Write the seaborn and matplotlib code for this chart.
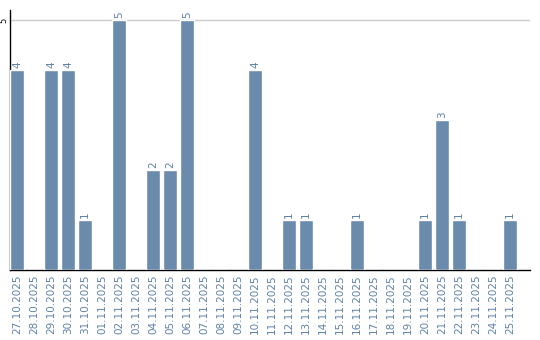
import matplotlib
matplotlib.use("Agg")
import matplotlib.pyplot as plt
import seaborn as sns
import pandas as pd

dates = ["27.10.2025", "28.10.2025", "29.10.2025", "30.10.2025", "31.10.2025",
         "01.11.2025", "02.11.2025", "03.11.2025", "04.11.2025", "05.11.2025",
         "06.11.2025", "07.11.2025", "08.11.2025", "09.11.2025", "10.11.2025",
         "11.11.2025", "12.11.2025", "13.11.2025", "14.11.2025", "15.11.2025",
         "16.11.2025", "17.11.2025", "18.11.2025", "19.11.2025", "20.11.2025",
         "21.11.2025", "22.11.2025", "23.11.2025", "24.11.2025", "25.11.2025"]
counts = [4, 0, 4, 4, 1, 0, 5, 0, 2, 2, 5, 0, 0, 0, 4,
          0, 1, 1, 0, 0, 1, 0, 0, 0, 1, 3, 1, 0, 0, 1]

bar_color = "#6a8bab"
label_color = "#5f82a8"

sns.set_style("white")
plt.rcParams["font.family"] = ["DejaVu Sans"]

df = pd.DataFrame({"date": dates, "count": counts})

fig = plt.figure(figsize=(5.4, 3.4), dpi=100)
ax = fig.add_axes([10/540, 70/340, 520/540, 260/340])

sns.barplot(data=df, x="date", y="count", color=bar_color, width=0.82,
            saturation=1, ax=ax, zorder=3)

ax.set_xlim(-0.41, 30.18)
ax.set_ylim(0, 5.2)
ax.set_yticks([5])
ax.set_yticklabels(["5"], rotation=90, fontsize=6, color="black", va="center")
ax.yaxis.grid(True, color="#cccccc", linewidth=1, zorder=0)
ax.tick_params(axis="y", length=0, pad=1)
ax.tick_params(axis="x", length=0, pad=3)
ax.set_xticks(range(len(dates)))
ax.set_xticklabels(dates, rotation=90, fontsize=7.5, color=label_color)
ax.set_xlabel("")
ax.set_ylabel("")

for s in ["top", "right"]:
    ax.spines[s].set_visible(False)
for s in ["left", "bottom"]:
    ax.spines[s].set_color("black")
    ax.spines[s].set_linewidth(1.0)

for i, v in enumerate(counts):
    if v > 0:
        ax.text(i, v + 0.04, str(v), rotation=90, ha="center", va="bottom",
                fontsize=7.5, color=label_color)

fig.savefig("out.png", dpi=100)
